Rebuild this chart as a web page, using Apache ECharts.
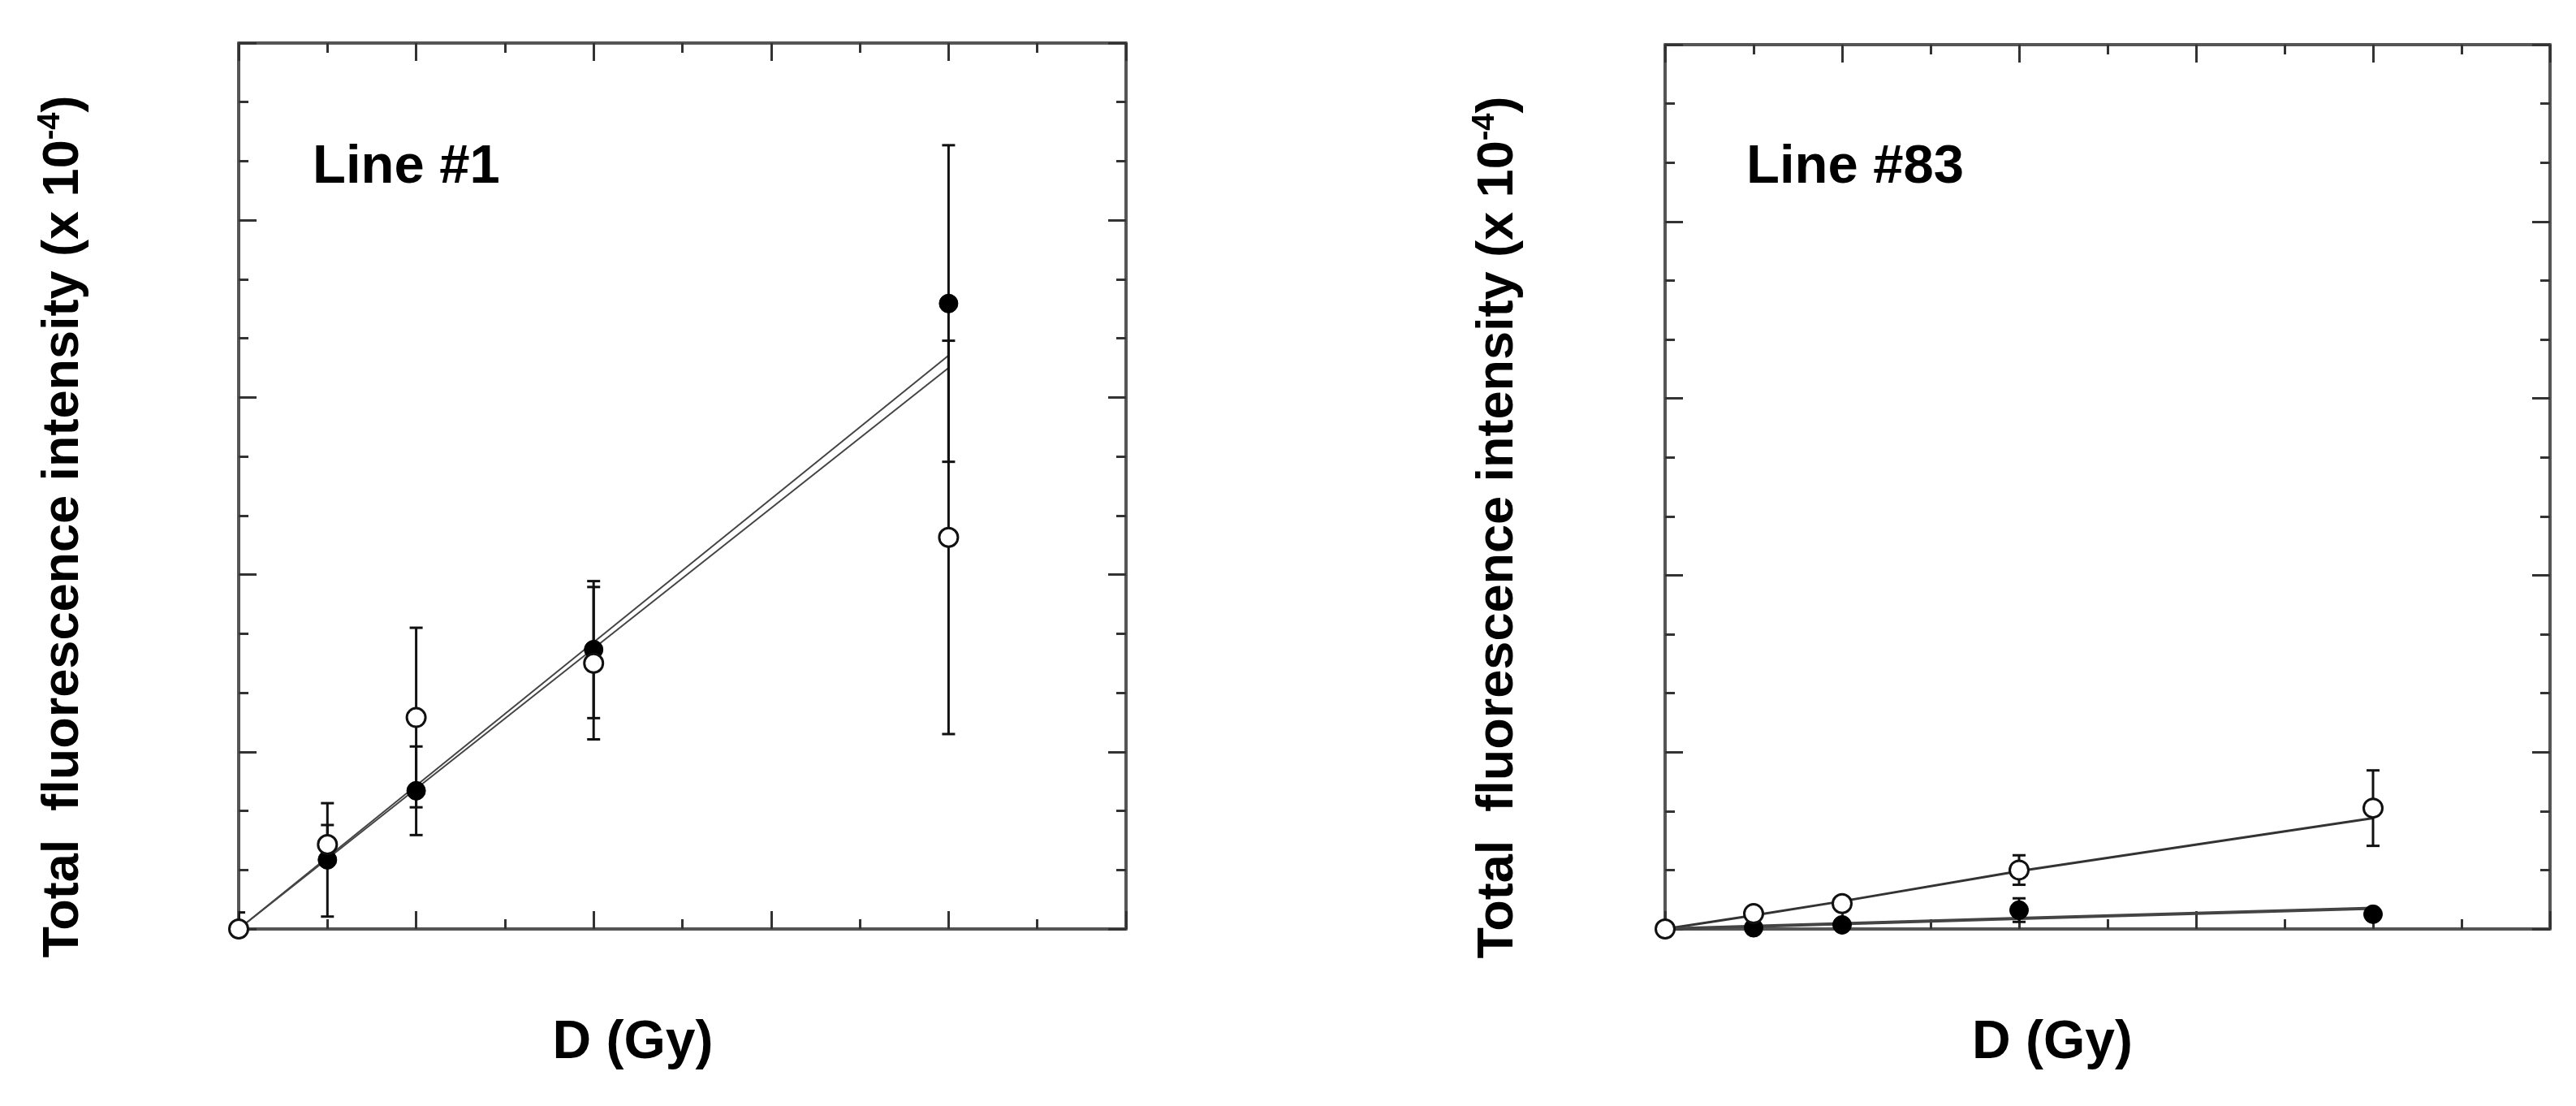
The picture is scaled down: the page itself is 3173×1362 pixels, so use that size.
<!DOCTYPE html>
<html>
<head>
<meta charset="utf-8">
<title>Total fluorescence intensity vs dose</title>
<script src="https://cdn.jsdelivr.net/npm/echarts@6/dist/echarts.min.js"></script>
<style>
  html, body { margin: 0; padding: 0; background: #fff; }
  #chart { width: 3173px; height: 1362px; }
</style>
</head>
<body>
<div id="chart"></div>
<script>
// dose steps (axis units, no tick labels in the original)
const doses = [0, 1, 2, 4, 8]

// Line #1
const line1Open = [0, 1.43, 3.58, 4.50, 6.63]
const line1OpenErr = [0.28, 0.33, 1.52, 1.29, 3.33]
const line1Filled = [0, 1.17, 2.34, 4.73, 10.59]
const line1FilledErr = [0, 0.96, 0.75, 1.16, 2.68]
const line1FitX = [0, 8]
const line1FitA = [0, 9.71]
const line1FitB = [0, 9.50]

// Line #83
const line83Open = [0, 0.26, 0.43, 1.0, 2.05]
const line83OpenErr = [0, 0.05, 0.08, 0.25, 0.64]
const line83Filled = [0, 0.02, 0.07, 0.32, 0.25]
const line83FilledErr = [0, 0, 0.03, 0.2, 0.05]
const line83FitOpenX = [0, 1, 2, 4, 8]
const line83FitOpen = [0, 0.23, 0.47, 0.98, 1.88]
const line83FitFilledX = [0, 2, 4, 8]
const line83FitFilled = [0, 0.09, 0.18, 0.35]

const FONT = '"Liberation Sans", Arial, sans-serif'

const chart = echarts.init(document.getElementById('chart'))

function pairs(xs, ys) {
  return xs.map((x, i) => [x, ys[i]])
}

function errData(xs, ys, errs) {
  const out = []
  xs.forEach((x, i) => {
    if (errs[i] > 0) out.push([x, ys[i] - errs[i], ys[i] + errs[i]])
  })
  return out
}

function renderErr(params, api) {
  const x = api.value(0)
  const lo = api.coord([x, api.value(1)])
  const hi = api.coord([x, api.value(2)])
  const w = 8
  const style = { stroke: '#111', lineWidth: 3 }
  return {
    type: 'group',
    children: [
      { type: 'line', shape: { x1: lo[0], y1: lo[1], x2: hi[0], y2: hi[1] }, style },
      { type: 'line', shape: { x1: lo[0] - w, y1: lo[1], x2: lo[0] + w, y2: lo[1] }, style },
      { type: 'line', shape: { x1: hi[0] - w, y1: hi[1], x2: hi[0] + w, y2: hi[1] }, style }
    ]
  }
}

const frameLine = { show: true, onZero: false, lineStyle: { color: '#555', width: 4 } }
const tickStyle = { color: '#333', width: 3 }

function xAxisFor(gridIndex, position, withName, pad) {
  return {
    type: 'value',
    gridIndex,
    position,
    min: 0,
    max: 10,
    interval: 2,
    axisLine: frameLine,
    axisTick: { show: true, inside: true, length: 22, lineStyle: tickStyle },
    minorTick: { show: true, splitNumber: 2, length: 12, lineStyle: tickStyle },
    axisLabel: { show: false },
    splitLine: { show: false },
    name: withName ? 'D (Gy)' : '',
    nameLocation: 'middle',
    nameGap: 108,
    nameTextStyle: {
      fontSize: 66, fontWeight: 'bold', fontFamily: FONT, color: '#000',
      padding: [0, pad || 0, 0, 0]
    }
  }
}

function yAxisFor(gridIndex, position, withName, gap) {
  return {
    type: 'value',
    gridIndex,
    position,
    min: 0,
    max: 15,
    interval: 3,
    axisLine: frameLine,
    axisTick: { show: true, inside: true, length: 22, lineStyle: tickStyle },
    minorTick: { show: true, splitNumber: 3, length: 12, lineStyle: tickStyle },
    axisLabel: { show: false },
    splitLine: { show: false },
    name: withName ? '{t|Total  fluorescence intensity (x 10}{s|-4}{t|)}' : '',
    nameLocation: 'middle',
    nameRotate: 90,
    nameGap: gap || 0,
    nameTextStyle: {
      color: '#000',
      padding: [0, 100, 0, 0],
      rich: {
        t: { fontSize: 63, fontWeight: 'bold', fontFamily: FONT, color: '#000', lineHeight: 70 },
        s: { fontSize: 38, fontWeight: 'bold', fontFamily: FONT, color: '#000', verticalAlign: 'top', lineHeight: 40 }
      }
    }
  }
}

function lineSeries(xi, yi, xs, ys, color, width) {
  return {
    type: 'line',
    xAxisIndex: xi,
    yAxisIndex: yi,
    data: pairs(xs, ys),
    showSymbol: false,
    lineStyle: { color, width },
    z: 2,
    animation: false
  }
}

function errSeries(xi, yi, data) {
  return {
    type: 'custom',
    xAxisIndex: xi,
    yAxisIndex: yi,
    data,
    renderItem: renderErr,
    clip: true,
    z: 3,
    animation: false
  }
}

function dotSeries(xi, yi, xs, ys, open, size) {
  return {
    type: 'scatter',
    xAxisIndex: xi,
    yAxisIndex: yi,
    data: pairs(xs, ys),
    symbol: 'circle',
    symbolSize: size,
    itemStyle: open
      ? { color: '#fff', borderColor: '#111', borderWidth: 3, opacity: 1 }
      : { color: '#000', borderColor: '#000', borderWidth: 1, opacity: 1 },
    z: open ? 5 : 4,
    animation: false
  }
}

chart.setOption({
  backgroundColor: '#fff',
  animation: false,
  title: [
    { text: 'Line #1', left: 380, top: 168, textStyle: { fontSize: 67, fontWeight: 'bold', fontFamily: FONT, color: '#000' } },
    { text: 'Line #83', left: 2146, top: 168, textStyle: { fontSize: 67, fontWeight: 'bold', fontFamily: FONT, color: '#000' } }
  ],
  grid: [
    { left: 294, top: 53, width: 1093, height: 1091 },
    { left: 2051, top: 55, width: 1090, height: 1089 }
  ],
  xAxis: [
    xAxisFor(0, 'bottom', true, 122),
    xAxisFor(0, 'top', false),
    xAxisFor(1, 'bottom', true, 136),
    xAxisFor(1, 'top', false)
  ],
  yAxis: [
    yAxisFor(0, 'left', true, 180),
    yAxisFor(0, 'right', false),
    yAxisFor(1, 'left', true, 170),
    yAxisFor(1, 'right', false)
  ],
  series: [
    // Line #1
    lineSeries(0, 0, line1FitX, line1FitA, '#444', 2),
    lineSeries(0, 0, line1FitX, line1FitB, '#444', 2),
    errSeries(0, 0, errData(doses, line1Filled, line1FilledErr)),
    errSeries(0, 0, errData(doses, line1Open, line1OpenErr)),
    dotSeries(0, 0, doses, line1Filled, false, 23),
    dotSeries(0, 0, doses, line1Open, true, 23),
    // Line #83
    lineSeries(2, 2, line83FitOpenX, line83FitOpen, '#333', 3),
    lineSeries(2, 2, line83FitFilledX, line83FitFilled, '#444', 4),
    errSeries(2, 2, errData(doses, line83Filled, line83FilledErr)),
    errSeries(2, 2, errData(doses, line83Open, line83OpenErr)),
    dotSeries(2, 2, doses, line83Filled, false, 23),
    dotSeries(2, 2, doses, line83Open, true, 23)
  ]
})
</script>
</body>
</html>
